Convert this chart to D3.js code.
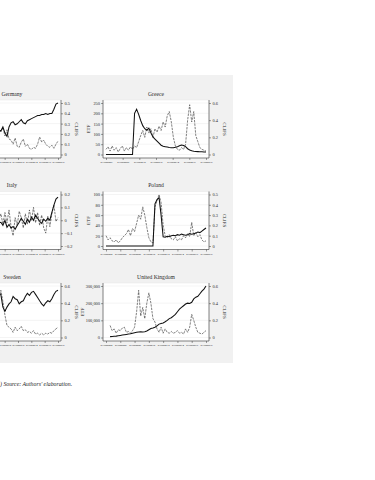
<!DOCTYPE html>
<html>
<head>
<meta charset="utf-8">
<script src="https://cdn.jsdelivr.net/npm/d3@7"></script>
<style>
  body { margin: 0; background: #fff; }
  svg { display: block; }
</style>
</head>
<body>
<svg id="chart" width="375" height="480"></svg>
<script>
// ETF (left axis, solid) and CLIFS (right axis, dashed), 50 evenly spaced obs per country
const germanyETF = [18,19,20,21,22,23,24,25,26,27,25,22,18,15,16,18,20,22,21,23,22,
  21.4,23.4,20.4,18.8,23.4,25.4,25.9,24.4,24.9,25.9,26.9,25.4,24.9,26.4,26.9,27.4,27.9,28.4,28.9,28.9,29.4,29.4,29.9,29.4,29.9,29.9,32,34.5,35]
const germanyCLIFS = [0.1,0.12,0.08,0.1,0.09,0.12,0.15,0.2,0.3,0.45,0.35,0.25,0.2,0.28,0.22,0.18,0.3,0.25,0.2,0.3,0.25,
  0.22,0.26,0.18,0.24,0.15,0.14,0.1,0.16,0.08,0.07,0.12,0.15,0.08,0.1,0.06,0.05,0.07,0.06,0.1,0.17,0.12,0.14,0.1,0.08,0.07,0.09,0.06,0.1,0.13]

const greeceETF = [0,0,0,0,0,0,0,0,0,0,0,0,0,0,
  200,220,195,165,140,125,118,128,105,85,75,65,55,45,40,38,36,34,33,33,35,38,42,46,44,38,28,22,18,16,15,14,13,13,12,12]
const greeceCLIFS = [0.06,0.09,0.04,0.1,0.05,0.08,0.03,0.07,0.1,0.04,0.08,0.05,0.09,0.06,0.1,0.08,0.15,0.22,0.28,0.2,
  0.32,0.25,0.3,0.2,0.3,0.26,0.33,0.28,0.38,0.32,0.45,0.5,0.38,0.2,0.1,0.06,0.05,0.08,0.06,0.12,0.4,0.58,0.38,0.5,0.22,0.15,0.08,0.06,0.05,0.04]

const italyETF = [20,22,24,26,25,23,20,16,13,14,16,18,17,19,18,16,14,15,17,18,19,
  19.2,18,20,17.3,18.4,16.9,17.6,16.5,18,19.2,20.8,19.6,18.4,20.4,19.2,21.2,20,22,20.8,19.6,18.8,20.4,19.6,20.8,20,23.1,25.9,28.2,29]
const italyCLIFS = [0.02,-0.05,0.04,-0.02,0.06,0.1,0.15,0.05,-0.03,0.08,0.12,0.02,-0.04,0.06,0.1,0.03,-0.02,0.05,-0.06,0.04,0,
  0.05,-0.03,0.06,-0.02,0.08,-0.05,-0.12,0.02,-0.04,0.07,0.02,-0.06,0.05,-0.03,0.08,0,0.1,-0.02,0.06,-0.04,0.04,-0.06,-0.1,0.03,-0.05,0.05,0.12,-0.01,0.02]

const polandETF = [0,0,0,0,0,0,0,0,0,0,0,0,0,0,0,0,0,0,0,0,0,0,0,0,
  82,90,94,60,18,17,19,18,20,21,20,22,21,23,22,21,22,24,23,24,25,27,26,29,32,35]
const polandCLIFS = [0.1,0.06,0.08,0.05,0.04,0.06,0.03,0.05,0.08,0.1,0.12,0.16,0.1,0.17,0.14,0.22,0.3,0.26,0.38,0.3,
  0.18,0.08,0.04,0.03,0.38,0.44,0.5,0.42,0.2,0.1,0.08,0.11,0.07,0.06,0.09,0.05,0.07,0.06,0.1,0.08,0.12,0.09,0.23,0.1,0.13,0.09,0.11,0.06,0.04,0.05]

const swedenETF = [20,22,25,28,30,32,28,22,18,16,19,22,24,26,24,28,30,32,34,33,36,
  35,27.7,25.3,27.7,29.6,30.8,33.9,32.6,32,29.6,30.8,31.4,33.9,35.7,34.5,36.3,36.9,35.1,33.3,31.4,29.6,28.4,30.2,31.4,30.8,32.6,35.1,36.9,37.5]
const swedenCLIFS = [0.1,0.12,0.15,0.1,0.08,0.12,0.2,0.35,0.5,0.4,0.3,0.2,0.18,0.25,0.3,0.22,0.28,0.35,0.4,0.5,0.45,
  0.55,0.42,0.26,0.14,0.12,0.1,0.06,0.12,0.08,0.1,0.13,0.08,0.09,0.06,0.07,0.05,0.08,0.04,0.05,0.03,0.05,0.03,0.05,0.04,0.06,0.05,0.08,0.1,0.12]

const ukETF = [null,null,5000,6000,7000,8000,10000,12000,14000,16000,18000,20000,22000,25000,28000,30000,32000,33000,32000,34000,
  38000,45000,52000,55000,60000,68000,78000,82000,85000,92000,100000,110000,115000,125000,135000,150000,165000,175000,185000,195000,
  200000,198000,205000,225000,235000,240000,255000,270000,282000,300000]
const ukCLIFS = [null,null,0.14,0.08,0.1,0.05,0.09,0.08,0.11,0.12,0.06,0.07,0.05,0.08,0.12,0.3,0.55,0.25,0.35,0.22,
  0.4,0.52,0.4,0.22,0.18,0.1,0.06,0.12,0.05,0.1,0.06,0.05,0.07,0.05,0.06,0.08,0.05,0.06,0.04,0.1,0.06,0.12,0.27,0.2,0.12,0.06,0.05,0.04,0.06,0.08]

// axis ticks
const germanyETFTicks = [10,15,20,25,30,35], germanyCLIFSTicks = [0,0.1,0.2,0.3,0.4,0.5]
const greeceETFTicks = [0,50,100,150,200,250], greeceCLIFSTicks = [0,0.2,0.4,0.6]
const italyETFTicks = [10,15,20,25,30], italyCLIFSTicks = [-0.2,-0.1,0,0.1,0.2]
const polandETFTicks = [0,20,40,60,80,100], polandCLIFSTicks = [0,0.1,0.2,0.3,0.4,0.5]
const swedenETFTicks = [10,20,30,40], swedenCLIFSTicks = [0,0.2,0.4,0.6]
const ukETFTicks = [0,100000,200000,300000], ukCLIFSTicks = [0,0.2,0.4,0.6]

const years03 = [2004,2006,2008,2010,2012,2014,2016,2018]
const years06 = [2006,2008,2010,2012,2014,2016,2018]
const years04 = [2004,2006,2008,2010,2012,2014,2016,2018]

const panels = [
  {name: "Germany", col: 0, row: 0, from: 2003, to: 2018, years: years03, etf: germanyETF, clifs: germanyCLIFS, et: germanyETFTicks, ct: germanyCLIFSTicks},
  {name: "Greece", col: 1, row: 0, from: 2006, to: 2018, years: years06, etf: greeceETF, clifs: greeceCLIFS, et: greeceETFTicks, ct: greeceCLIFSTicks},
  {name: "Italy", col: 0, row: 1, from: 2003, to: 2018, years: years03, etf: italyETF, clifs: italyCLIFS, et: italyETFTicks, ct: italyCLIFSTicks},
  {name: "Poland", col: 1, row: 1, from: 2004, to: 2018, years: years04, etf: polandETF, clifs: polandCLIFS, et: polandETFTicks, ct: polandCLIFSTicks},
  {name: "Sweden", col: 0, row: 2, from: 2003, to: 2018, years: years03, etf: swedenETF, clifs: swedenCLIFS, et: swedenETFTicks, ct: swedenCLIFSTicks},
  {name: "United Kingdom", col: 1, row: 2, from: 2004, to: 2018, years: years04, etf: ukETF, clifs: ukCLIFS, et: ukETFTicks, ct: ukCLIFSTicks}
]

const FONT = "'Liberation Serif', 'DejaVu Serif', serif"
const INK = "#2a2a2a"
const svg = d3.select("#chart")

// graph region background
svg.append("rect").attr("x", 0).attr("y", 75).attr("width", 233).attr("height", 288).attr("fill", "#f1f1f1")

const fmtDate = d => d3.timeFormat("%d%b%Y")(d).toLowerCase()
const fmtNum = d => d === 0 ? "0" : Number.isInteger(d) ? d3.format(",")(d) : d3.format(".1f")(d).replace("-", "\u2212")

function styleAxis(sel, size) {
  sel.attr("font-family", FONT).attr("font-size", size)
  sel.select(".domain").remove()
  sel.selectAll("line").attr("stroke", INK).attr("stroke-width", 0.45)
  sel.selectAll("text").attr("fill", INK)
}

function drawPanel(p) {
  const dx = p.col === 0 ? -148 : 0
  const dy = p.row * 91.5
  const g = svg.append("g").attr("transform", `translate(${dx},${dy})`)
  const start = new Date(p.from, 0, 1), end = new Date(p.to, 0, 1)
  const n = p.etf.length
  const dates = d3.range(n).map(i => new Date(+start + i * (end - start) / (n - 1)))

  const x = d3.scaleTime().domain([start, end]).range([106, 206])
  const yL = d3.scaleLinear().domain(d3.extent(p.et)).range([154.5, 103])
  const yR = d3.scaleLinear().domain(d3.extent(p.ct)).range([154.5, 103])

  // plot region
  g.append("rect").attr("x", 103).attr("y", 100).attr("width", 106).attr("height", 58)
    .attr("fill", "#fff").attr("stroke", "#e2e2e2").attr("stroke-width", 0.4)
  g.selectAll("line.grid").data(p.et).join("line").attr("class", "grid")
    .attr("x1", 103).attr("x2", 209).attr("y1", d => yL(d)).attr("y2", d => yL(d))
    .attr("stroke", "#e4e4e4").attr("stroke-width", 0.4)

  // axis lines
  g.append("line").attr("x1", 103).attr("x2", 209).attr("y1", 158).attr("y2", 158).attr("stroke", INK).attr("stroke-width", 0.55)
  g.append("line").attr("x1", 209).attr("x2", 209).attr("y1", 100).attr("y2", 158).attr("stroke", INK).attr("stroke-width", 0.55)

  if (p.col === 1) {
    g.append("line").attr("x1", 103).attr("x2", 103).attr("y1", 100).attr("y2", 158).attr("stroke", INK).attr("stroke-width", 0.55)
    g.append("g").attr("transform", "translate(103,0)")
      .call(d3.axisLeft(yL).tickValues(p.et).tickSize(2).tickPadding(1).tickFormat(fmtNum))
      .call(s => styleAxis(s, 4.4))
    g.append("text").attr("transform", `translate(${p.name === "United Kingdom" ? 84 : 90},129) rotate(-90)`)
      .attr("text-anchor", "middle").attr("font-family", FONT).attr("font-size", 5).attr("fill", INK).text("ETF")
  }

  g.append("g").attr("transform", "translate(209,0)")
    .call(d3.axisRight(yR).tickValues(p.ct).tickSize(2).tickPadding(1.5).tickFormat(fmtNum))
    .call(s => styleAxis(s, 4.4))
  g.append("text").attr("transform", "translate(223,129) rotate(90)")
    .attr("text-anchor", "middle").attr("font-family", FONT).attr("font-size", 5).attr("fill", INK).text("CLIFS")

  const tickDates = p.years.map(y => new Date(y, 0, 1)).filter(d => x(d) + dx >= 3)
  g.append("g").attr("transform", "translate(0,158)")
    .call(d3.axisBottom(x).tickValues(tickDates).tickSize(2).tickPadding(1.5).tickFormat(fmtDate))
    .call(s => styleAxis(s, 2.8))

  // title
  g.append("text").attr("x", p.col === 0 ? 160 : 156).attr("y", 95.5).attr("text-anchor", "middle")
    .attr("font-family", FONT).attr("font-size", 5.6).attr("fill", INK).text(p.name)

  const lineL = d3.line().defined(d => d[1] != null).x(d => x(d[0])).y(d => yL(d[1]))
  const lineR = d3.line().defined(d => d[1] != null).x(d => x(d[0])).y(d => yR(d[1]))

  g.append("path").datum(dates.map((d, i) => [d, p.clifs[i]])).attr("d", lineR)
    .attr("fill", "none").attr("stroke", "#3a3a3a").attr("stroke-width", 0.65).attr("stroke-dasharray", "2.4,1")
  g.append("path").datum(dates.map((d, i) => [d, p.etf[i]])).attr("d", lineL)
    .attr("fill", "none").attr("stroke", "#111").attr("stroke-width", 1.05)
}

panels.forEach(drawPanel)

svg.append("text").attr("x", 0).attr("y", 385.5).attr("font-family", FONT).attr("font-style", "italic")
  .attr("font-size", 5.8).attr("fill", "#222").text(") Source: Authors' elaboration.")
</script>
</body>
</html>
